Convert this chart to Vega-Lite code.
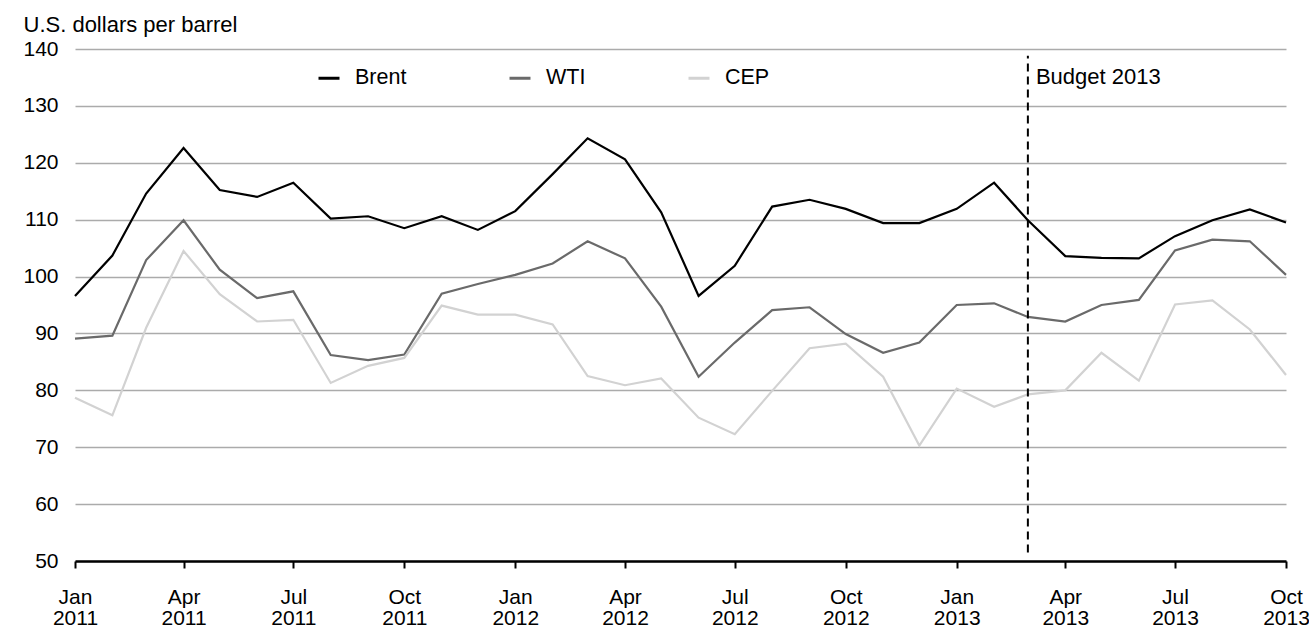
{
  "$schema": "https://vega.github.io/schema/vega-lite/v6.json",
  "autosize": {"type": "none"},
  "width": 1211,
  "height": 512,
  "padding": {"left": 75, "top": 49, "right": 23, "bottom": 70},
  "background": "white",
  "config": {
    "view": {"stroke": null},
    "font": "Liberation Sans",
    "axis": {"labelFont": "Liberation Sans", "titleFont": "Liberation Sans"},
    "legend": {"labelFont": "Liberation Sans"}
  },
  "datasets": {
    "prices": [
      {"date": "2011-01-01", "Brent": 96.6, "WTI": 89.1, "CEP": 78.7},
      {"date": "2011-02-01", "Brent": 103.7, "WTI": 89.6, "CEP": 75.6},
      {"date": "2011-03-01", "Brent": 114.6, "WTI": 102.9, "CEP": 91.0},
      {"date": "2011-04-01", "Brent": 122.6, "WTI": 109.9, "CEP": 104.5},
      {"date": "2011-05-01", "Brent": 115.2, "WTI": 101.2, "CEP": 96.9},
      {"date": "2011-06-01", "Brent": 114.0, "WTI": 96.2, "CEP": 92.1},
      {"date": "2011-07-01", "Brent": 116.5, "WTI": 97.4, "CEP": 92.4},
      {"date": "2011-08-01", "Brent": 110.2, "WTI": 86.2, "CEP": 81.3},
      {"date": "2011-09-01", "Brent": 110.6, "WTI": 85.3, "CEP": 84.3},
      {"date": "2011-10-01", "Brent": 108.5, "WTI": 86.3, "CEP": 85.7},
      {"date": "2011-11-01", "Brent": 110.6, "WTI": 97.0, "CEP": 94.9},
      {"date": "2011-12-01", "Brent": 108.2, "WTI": 98.7, "CEP": 93.3},
      {"date": "2012-01-01", "Brent": 111.5, "WTI": 100.3, "CEP": 93.3},
      {"date": "2012-02-01", "Brent": 118.0, "WTI": 102.3, "CEP": 91.6},
      {"date": "2012-03-01", "Brent": 124.3, "WTI": 106.2, "CEP": 82.5},
      {"date": "2012-04-01", "Brent": 120.6, "WTI": 103.2, "CEP": 80.9},
      {"date": "2012-05-01", "Brent": 111.3, "WTI": 94.7, "CEP": 82.1},
      {"date": "2012-06-01", "Brent": 96.6, "WTI": 82.4, "CEP": 75.2},
      {"date": "2012-07-01", "Brent": 101.9, "WTI": 88.4, "CEP": 72.3},
      {"date": "2012-08-01", "Brent": 112.3, "WTI": 94.1, "CEP": 79.9},
      {"date": "2012-09-01", "Brent": 113.5, "WTI": 94.6, "CEP": 87.4},
      {"date": "2012-10-01", "Brent": 111.9, "WTI": 89.9, "CEP": 88.2},
      {"date": "2012-11-01", "Brent": 109.4, "WTI": 86.6, "CEP": 82.4},
      {"date": "2012-12-01", "Brent": 109.4, "WTI": 88.4, "CEP": 70.3},
      {"date": "2013-01-01", "Brent": 111.9, "WTI": 95.0, "CEP": 80.3},
      {"date": "2013-02-01", "Brent": 116.5, "WTI": 95.3, "CEP": 77.1},
      {"date": "2013-03-01", "Brent": 109.9, "WTI": 92.9, "CEP": 79.3},
      {"date": "2013-04-01", "Brent": 103.6, "WTI": 92.1, "CEP": 80.0},
      {"date": "2013-05-01", "Brent": 103.3, "WTI": 95.0, "CEP": 86.6},
      {"date": "2013-06-01", "Brent": 103.2, "WTI": 95.9, "CEP": 81.7},
      {"date": "2013-07-01", "Brent": 107.1, "WTI": 104.6, "CEP": 95.1},
      {"date": "2013-08-01", "Brent": 109.9, "WTI": 106.5, "CEP": 95.8},
      {"date": "2013-09-01", "Brent": 111.8, "WTI": 106.2, "CEP": 90.7},
      {"date": "2013-10-01", "Brent": 109.5, "WTI": 100.3, "CEP": 82.7}
    ],
    "budget": [
      {"date": "2013-03-01", "low": 51.5, "high": 138.8, "labelValue": 135.1, "label": "Budget 2013"}
    ]
  },
  "layer": [
    {
      "data": {"name": "prices"},
      "transform": [
        {"fold": ["Brent", "WTI", "CEP"], "as": ["series", "price"]}
      ],
      "mark": {"type": "line", "strokeWidth": 2.2, "strokeJoin": "miter", "clip": false},
      "encoding": {
        "x": {
          "field": "date",
          "type": "temporal",
          "scale": {
            "type": "utc",
            "nice": false,
            "domain": [
              {"year": 2011, "month": 1, "date": 1, "utc": true},
              {"year": 2013, "month": 10, "date": 1, "utc": true}
            ]
          },
          "axis": {
            "title": null,
            "values": [
              {"year": 2011, "month": 1, "date": 1, "utc": true},
              {"year": 2011, "month": 4, "date": 1, "utc": true},
              {"year": 2011, "month": 7, "date": 1, "utc": true},
              {"year": 2011, "month": 10, "date": 1, "utc": true},
              {"year": 2012, "month": 1, "date": 1, "utc": true},
              {"year": 2012, "month": 4, "date": 1, "utc": true},
              {"year": 2012, "month": 7, "date": 1, "utc": true},
              {"year": 2012, "month": 10, "date": 1, "utc": true},
              {"year": 2013, "month": 1, "date": 1, "utc": true},
              {"year": 2013, "month": 4, "date": 1, "utc": true},
              {"year": 2013, "month": 7, "date": 1, "utc": true},
              {"year": 2013, "month": 10, "date": 1, "utc": true}
            ],
            "labelExpr": "[utcFormat(datum.value, '%b'), utcFormat(datum.value, '%Y')]",
            "labelFontSize": 21,
            "labelColor": "#000000",
            "labelLineHeight": 21,
            "labelPadding": 18,
            "labelBaseline": "top",
            "labelAlign": "center",
            "labelOverlap": false,
            "labelFlush": false,
            "grid": false,
            "domainColor": "#000000",
            "domainWidth": 2.5,
            "tickColor": "#000000",
            "tickWidth": 2,
            "tickSize": 7
          }
        },
        "y": {
          "field": "price",
          "type": "quantitative",
          "scale": {"domain": [50, 140], "nice": false, "zero": false},
          "axis": {
            "title": "U.S. dollars per barrel",
            "titleAngle": 0,
            "titleAlign": "left",
            "titleBaseline": "alphabetic",
            "titleX": -52,
            "titleY": -18,
            "titleFontSize": 22,
            "titleFontWeight": "normal",
            "titleColor": "#000000",
            "values": [50, 60, 70, 80, 90, 100, 110, 120, 130, 140],
            "labelFontSize": 21,
            "labelColor": "#000000",
            "labelPadding": 17,
            "domain": false,
            "ticks": false,
            "grid": true,
            "gridColor": "#ababab",
            "gridWidth": 1.6
          }
        },
        "color": {
          "field": "series",
          "type": "nominal",
          "sort": ["Brent", "WTI", "CEP"],
          "scale": {"domain": ["Brent", "WTI", "CEP"], "range": ["#000000", "#6a6a6a", "#d2d2d2"]},
          "legend": {
            "title": null,
            "orient": "none",
            "direction": "horizontal",
            "legendX": 242,
            "legendY": 17,
            "symbolType": "stroke",
            "symbolSize": 441,
            "symbolStrokeWidth": 3,
            "labelFontSize": 21.5,
            "labelColor": "#000000",
            "labelOffset": 14,
            "columnPadding": 96,
            "padding": 0
          }
        }
      }
    },
    {
      "data": {"name": "budget"},
      "mark": {"type": "rule", "color": "#000000", "strokeWidth": 2, "strokeDash": [8, 5]},
      "encoding": {
        "x": {"field": "date", "type": "temporal"},
        "y": {"field": "low", "type": "quantitative"},
        "y2": {"field": "high"}
      }
    },
    {
      "data": {"name": "budget"},
      "mark": {"type": "text", "align": "left", "baseline": "middle", "dx": 8, "fontSize": 22, "color": "#000000"},
      "encoding": {
        "x": {"field": "date", "type": "temporal"},
        "y": {"field": "labelValue", "type": "quantitative"},
        "text": {"field": "label"}
      }
    }
  ]
}
